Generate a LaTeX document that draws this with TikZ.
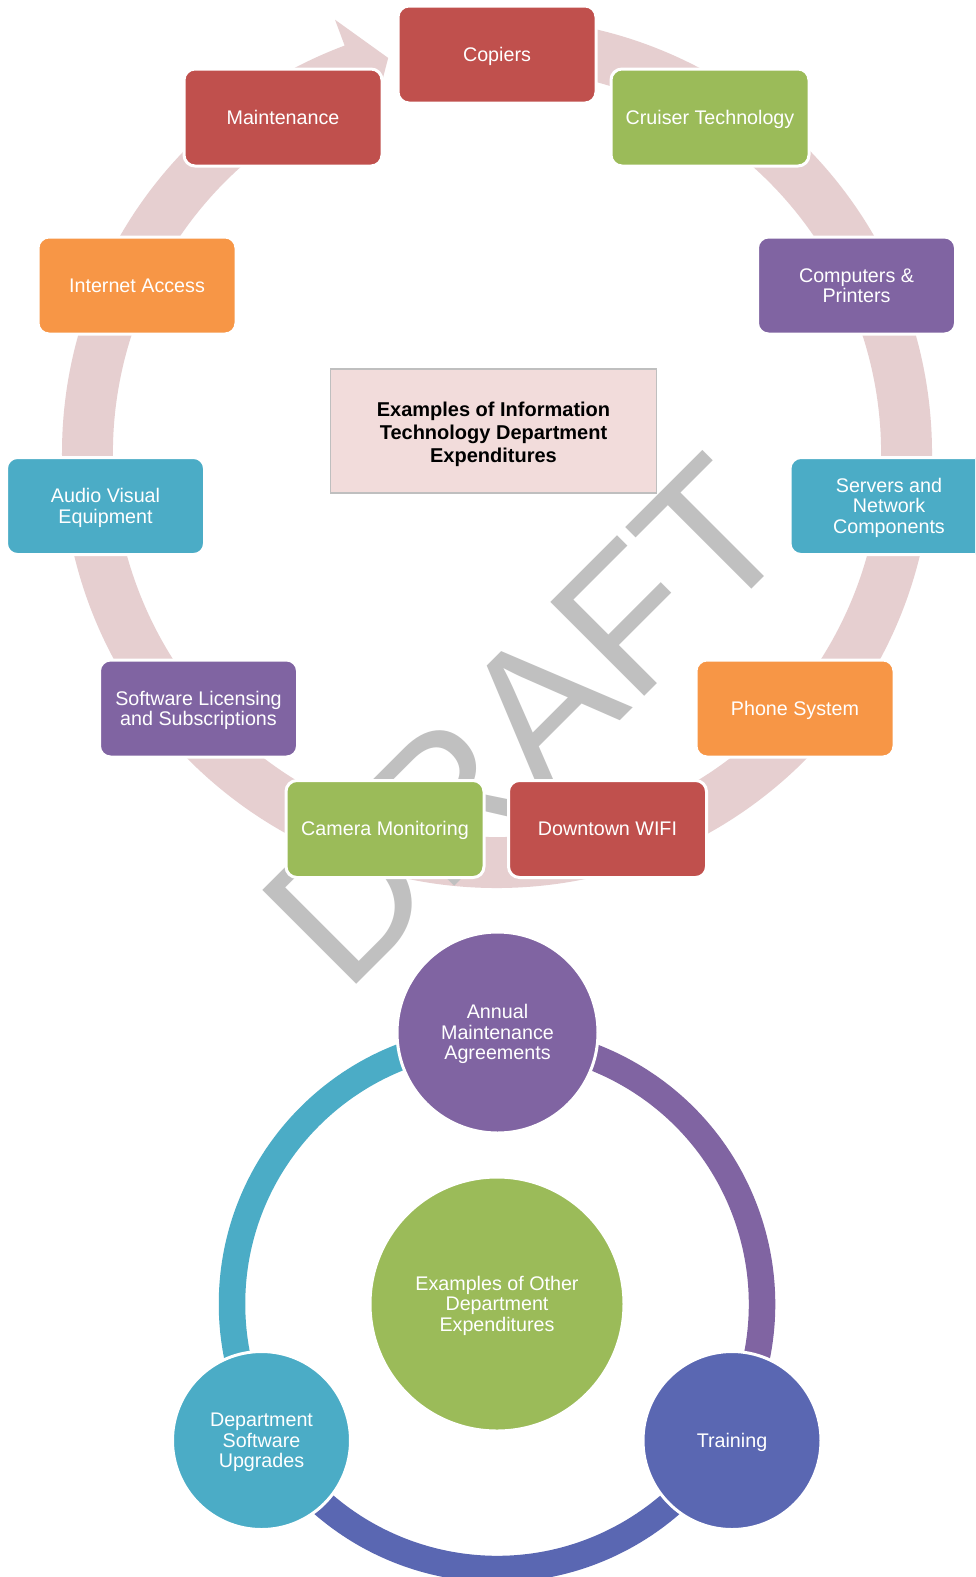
\documentclass[tikz,border=0pt]{standalone}
\usepackage{fontspec}
\setmainfont{Liberation Sans}
\usetikzlibrary{calc}
\definecolor{ringpink}{HTML}{E6CFD0}
\definecolor{accred}{HTML}{C0504D}
\definecolor{accgreen}{HTML}{9BBB59}
\definecolor{accpurple}{HTML}{8064A2}
\definecolor{accaqua}{HTML}{4BACC6}
\definecolor{accorange}{HTML}{F79646}
\definecolor{accblue}{HTML}{5A67B2}
\definecolor{titlefill}{HTML}{F2DCDB}
\definecolor{titleline}{HTML}{BFBFBF}
\definecolor{wmgray}{HTML}{C0C0C0}
% struts giving every label the full line box of the font
\newcommand\labeltop{\rule{0pt}{17.8pt}}
\newcommand\labelbot{\rule[-4.2pt]{0pt}{4.2pt}}
\newcommand\titletop{\rule{0pt}{20.6pt}}

\begin{document}
\begin{tikzpicture}[x=1pt,y=-1pt,
  labelfont/.style={font=\fontsize{19.7}{20.6}\selectfont},
  itembox/.style={draw=white, line width=3pt, rounded corners=11pt, fill=#1,
    text=white, minimum width=198pt, minimum height=97pt, align=center,
    inner sep=2pt, labelfont},
  disc/.style={circle, draw=white, line width=3pt, fill=#1, text=white,
    align=center, inner sep=0pt, labelfont},
  ringarc/.style={draw=#1, line width=26.5pt}
]
\clip (0,0) rectangle (975,1577);
\fill[white] (0,0) rectangle (975,1577);

% circular arrow behind the IT items
\coordinate (rc) at (497,453);
\fill[ringpink] ($(rc)+(-95:435)$) arc[start angle=-95, end angle=249.5, radius=435]
  -- ($(rc)+(249.5:462.6)$) -- ($(rc)+(254.6:409.8)$) -- ($(rc)+(249.5:356.5)$)
  -- ($(rc)+(249.5:384)$) arc[start angle=249.5, end angle=-95, radius=384] -- cycle;

% title box
\node[draw=titleline, line width=1.5pt, fill=titlefill, minimum width=326pt,
  minimum height=124pt, align=center, inner sep=0pt,
  font=\bfseries\fontsize{20}{23}\selectfont] (title) at (493.5,431)
  {\titletop Examples of Information\\Technology Department\\Expenditures\labelbot};

% watermark
\node[rotate=45, text=wmgray, inner sep=0pt, font=\fontsize{193}{193}\selectfont]
  (wm) at (525.5,721.5) {DRAFT};

% IT expenditure items
\node[itembox=accred] (copiers) at (497,54.5) {\labeltop Copiers\labelbot};
\node[itembox=accgreen] (cruiser) at (710,117.5) {\labeltop Cruiser Technology\labelbot};
\node[itembox=accpurple] (computers) at (856.5,285.5) {\labeltop Computers \&\\Printers\labelbot};
\node[itembox=accaqua] (servers) at (889,506) {\labeltop Servers and\\Network\\Components\labelbot};
\node[itembox=accorange] (phone) at (795,708.5) {\labeltop Phone System\labelbot};
\node[itembox=accred] (wifi) at (607.5,829) {\labeltop Downtown WIFI\labelbot};
\node[itembox=accgreen] (camera) at (385,829) {\labeltop Camera Monitoring\labelbot};
\node[itembox=accpurple] (software) at (198.5,708.5) {\labeltop Software Licensing\\and Subscriptions\labelbot};
\node[itembox=accaqua] (av) at (105.5,506) {\labeltop Audio Visual\\Equipment\labelbot};
\node[itembox=accorange] (internet) at (137,285.5) {\labeltop Internet Access\labelbot};
\node[itembox=accred] (maint) at (283,117.5) {\labeltop Maintenance\labelbot};

% other department expenditures: cycle ring
\coordinate (gc) at (497,1304);
\draw[ringarc=accaqua] ($(gc)+(-90:265)$) arc[start angle=-90, end angle=-210, radius=265];
\draw[ringarc=accblue] ($(gc)+(-210:265)$) arc[start angle=-210, end angle=-330, radius=265];
\draw[ringarc=accpurple] ($(gc)+(-330:265)$) arc[start angle=-330, end angle=-450, radius=265];

\node[disc=accgreen, minimum size=254pt] (other) at (gc) {\labeltop Examples of Other\\Department\\Expenditures\labelbot};
\node[disc=accpurple, minimum size=201pt] (annual) at (497.5,1032.5) {\labeltop Annual\\Maintenance\\Agreements\labelbot};
\node[disc=accblue, minimum size=178pt] (training) at (732,1440.5) {\labeltop Training\labelbot};
\node[disc=accaqua, minimum size=178pt] (dept) at (261.5,1440.5) {\labeltop Department\\Software\\Upgrades\labelbot};
\end{tikzpicture}
\end{document}
